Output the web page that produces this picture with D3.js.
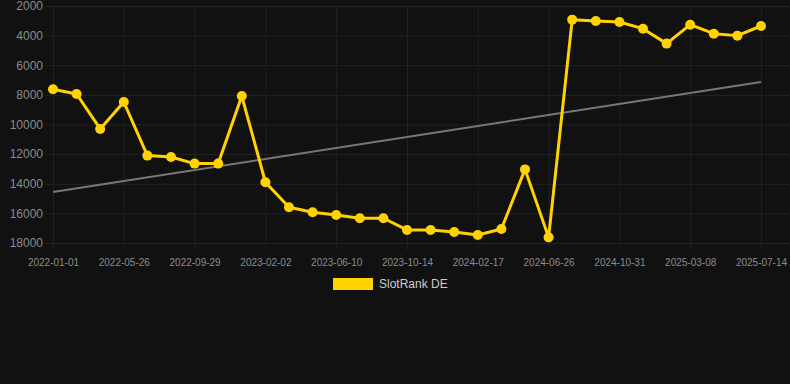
<!DOCTYPE html>
<html>
<head>
<meta charset="utf-8">
<script src="https://cdn.jsdelivr.net/npm/d3@7"></script>
<style>
  body { margin: 0; background: #111111; }
  svg { display: block; font-family: "Liberation Sans", Arial, sans-serif; }
</style>
</head>
<body>
<div class="chart"></div>
<script>
// data
var dates = ["2022-01-01","2022-02-18","2022-04-07","2022-05-26","2022-07-07","2022-08-18",
  "2022-09-29","2022-11-10","2022-12-22","2023-02-02","2023-03-15","2023-04-26",
  "2023-06-10","2023-07-22","2023-09-02","2023-10-14","2023-11-25","2024-01-06",
  "2024-02-17","2024-03-30","2024-05-14","2024-06-26","2024-08-07","2024-09-19",
  "2024-10-31","2024-12-12","2025-01-24","2025-03-08","2025-04-19","2025-06-01","2025-07-14"];
var rank = [7620, 7940, 10300, 8480, 12100, 12190, 12640, 12640, 8080, 13900, 15590, 15930,
  16110, 16330, 16330, 17120, 17120, 17260, 17460, 17050, 13030, 17620,
  2920, 3010, 3080, 3530, 4540, 3260, 3870, 4000, 3350];
var trendEnds = [14560, 7130];   // trend line, first and last date
var yTicks = [2000, 4000, 6000, 8000, 10000, 12000, 14000, 16000, 18000];
var seriesName = "SlotRank DE";

var svgWidth = 790, svgHeight = 384;
var svg = d3.select(".chart").append("svg")
  .attr("width", svgWidth)
  .attr("height", svgHeight);

svg.append("rect").attr("width", svgWidth).attr("height", svgHeight).attr("fill", "#111111");

var x = d3.scalePoint().domain(dates).range([53, 761]);
var y = d3.scaleLinear().domain([2000, 18000]).range([6, 243]);

// horizontal grid + y labels
var yAxis = d3.axisLeft(y).tickValues(yTicks).tickFormat(d3.format("d"))
  .tickSize(-(790 - 45)).tickPadding(3);
svg.append("g")
  .attr("transform", "translate(45,0)")
  .call(yAxis)
  .call(g => g.select(".domain").remove())
  .call(g => g.selectAll("line").attr("stroke", "#232323"))
  .call(g => g.selectAll("text").attr("fill", "#8c8c8c").attr("font-size", "12px").attr("x", -2));

// vertical grid + x labels, every third date
var xTickVals = dates.filter((d, i) => i % 3 === 0);
var xAxis = d3.axisBottom(x).tickValues(xTickVals).tickSize(-(250 - 6)).tickPadding(9);
svg.append("g")
  .attr("transform", "translate(0,250)")
  .call(xAxis)
  .call(g => g.select(".domain").remove())
  .call(g => g.selectAll("line").attr("stroke", "#202020"))
  .call(g => g.selectAll("text").attr("fill", "#8c8c8c").attr("font-size", "10px"));

// trend line
svg.append("line")
  .attr("x1", x(dates[0])).attr("y1", y(trendEnds[0]))
  .attr("x2", x(dates[dates.length - 1])).attr("y2", y(trendEnds[1]))
  .attr("stroke", "#777777")
  .attr("stroke-width", 2);

// rank line
var line = d3.line()
  .x((d, i) => x(dates[i]))
  .y(d => y(d));

svg.append("path")
  .datum(rank)
  .attr("d", line)
  .attr("fill", "none")
  .attr("stroke", "#ffd200")
  .attr("stroke-width", 3)
  .attr("stroke-linejoin", "round");

svg.selectAll("circle.pt")
  .data(rank)
  .enter()
  .append("circle")
  .attr("class", "pt")
  .attr("cx", (d, i) => x(dates[i]))
  .attr("cy", d => y(d))
  .attr("r", 5)
  .attr("fill", "#ffd200");

// legend
var legend = svg.append("g").attr("transform", "translate(333,278)");
legend.append("rect")
  .attr("width", 40).attr("height", 12)
  .attr("fill", "#ffd200");
legend.append("text")
  .attr("x", 46).attr("y", 6)
  .attr("dy", "0.35em")
  .attr("fill", "#cccccc")
  .attr("font-size", "12px")
  .text(seriesName);
</script>
</body>
</html>
